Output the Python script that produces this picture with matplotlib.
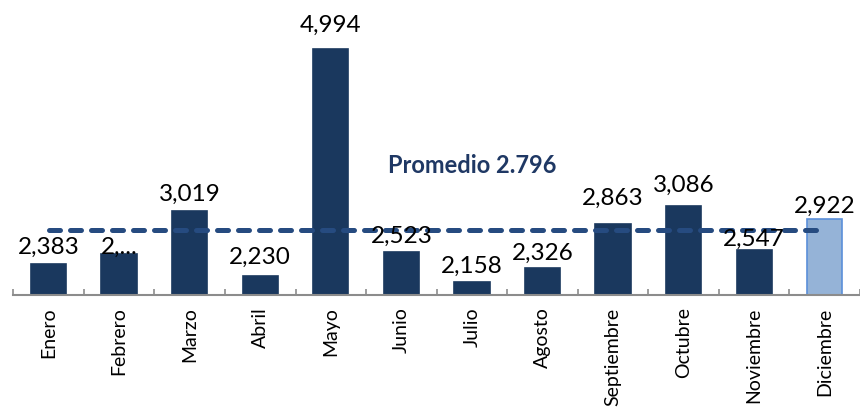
import numpy as np
import matplotlib
matplotlib.use("Agg")
import matplotlib.pyplot as plt

# datos mensuales
meses = ['Enero', 'Febrero', 'Marzo', 'Abril', 'Mayo', 'Junio', 'Julio',
         'Agosto', 'Septiembre', 'Octubre', 'Noviembre', 'Diciembre']
valores = [2383, 2502, 3019, 2230, 4994, 2523, 2158, 2326, 2863, 3086, 2547, 2922]
etiquetas = ['2,383', '2,...', '3,019', '2,230', '4,994', '2,523', '2,158',
             '2,326', '2,863', '3,086', '2,547', '2,922']
promedio = 2796
texto_promedio = 'Promedio 2.796'

# separacion de las etiquetas sobre cada barra (px), como en el original
sep_px = [9.6, 0.3, 10, 12, 17, 9, 9.3, 8.7, 19.4, 14, 4, 6.6]

plt.rcParams['font.family'] = ['Lato', 'DejaVu Sans']

W, H = 860, 407
fig = plt.figure(figsize=(W / 100, H / 100), dpi=100)
base_y = 295.0     # px desde arriba
left_x = 13.3
cat_w = 70.8
px_val = 12.167
ax = fig.add_axes([left_x / W, 1 - base_y / H, (W - left_x) / W, base_y / H])

x = np.arange(len(meses))
colores = ['#1a385e'] * 11 + ['#95b3d7']
bordes = ['#1a385e'] * 11 + ['#5b8fd9']
ax.bar(x, np.array(valores) - 2000, bottom=2000, width=0.5, color=colores,
       edgecolor=bordes, linewidth=1.2, zorder=2)

# linea de promedio
ax.plot([0, 11], [promedio, promedio], color='#264b80', linewidth=3.6,
        linestyle=(0, (2.2, 2.0)), dash_capstyle='round', zorder=3)
ax.text(6, 3480, texto_promedio, ha='center', va='baseline', fontsize=17,
        fontweight='bold', color='#1f3864', zorder=4)

for i, (v, t) in enumerate(zip(valores, etiquetas)):
    ax.annotate(t, (i, v), xytext=(0, sep_px[i] * 0.72), textcoords='offset points',
                ha='center', va='baseline', fontsize=17.5, color='black', zorder=5)

ax.set_xlim(-0.5, -0.5 + (W - left_x) / cat_w)
ax.set_ylim(2000, 2000 + base_y * px_val)

for s in ['top', 'right', 'left']:
    ax.spines[s].set_visible(False)
ax.spines['bottom'].set_color('#8c8c8c')
ax.spines['bottom'].set_linewidth(1.5)
ax.set_yticks([])

ax.set_xticks(x)
ax.set_xticklabels(meses, rotation=90, fontsize=14)
ax.tick_params(axis='x', which='major', length=0, pad=9)
ax.set_xticks(np.arange(-0.5, 12, 1), minor=True)
ax.tick_params(axis='x', which='minor', direction='in', length=4.5, width=1.2,
               color='#8c8c8c')

fig.savefig('out.png', dpi=100)
